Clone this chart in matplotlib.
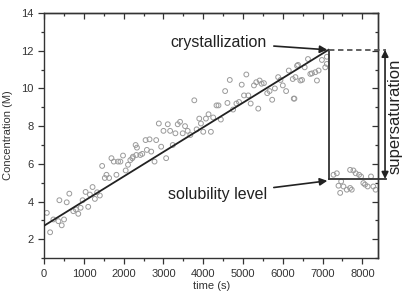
#!/usr/bin/env python3
"""Concentration vs time: linear rise to crystallization, then drop to solubility level."""

import matplotlib

matplotlib.use("Agg")

import matplotlib.pyplot as plt
from matplotlib.ticker import MultipleLocator
import numpy as np

plt.rcParams["font.family"] = ["Liberation Sans", "DejaVu Sans"]

# measured points (time in s, concentration in M)
TIME_S = [
    67, 150, 233, 358, 442, 500, 383, 567, 633, 733, 800, 858, 917, 967,
    1042, 1108, 1150, 1217, 1275, 1333, 1400, 1458, 1525, 1567, 1633, 1692,
    1750, 1817, 1858, 1917, 1983, 2050, 2108, 2167, 2233, 2317, 2217, 2300,
    2333, 2417, 2467, 2550, 2583, 2650, 2692, 2775, 2817, 2883, 2942, 3000,
    3067, 3108, 3167, 3233, 3300, 3358, 3417, 3483, 3542, 3608, 3675, 3775,
    3833, 3900, 3942, 4000, 4067, 4133, 4192, 4250, 4333, 4383, 4442, 4550,
    4608, 4667, 4750, 4833, 4900, 4967, 5025, 5083, 5133, 5192, 5275, 5333,
    5383, 5417, 5467, 5525, 5608, 5667, 5733, 5800, 5883, 5942, 6000, 6083,
    6150, 6275, 6358, 6250, 6317, 6383, 6442, 6483, 6550, 6633, 6692, 6733,
    6817, 6858, 6900, 6983, 7067, 7108, 7108, 6292,
    7275, 7358, 7400, 7467, 7442, 7525, 7608, 7692, 7733, 7692, 7775, 7833,
    7917, 7967, 8025, 8067, 8133, 8217, 8275, 8333,
]
CONC_M = [
    3.40, 2.37, 3.05, 2.96, 2.74, 3.05, 4.07, 3.96, 4.42, 3.49, 3.58, 3.35,
    3.67, 4.07, 4.51, 3.72, 4.37, 4.77, 4.14, 4.49, 4.32, 5.89, 5.25, 5.42,
    5.25, 6.30, 6.12, 5.42, 6.12, 6.12, 6.44, 5.65, 5.95, 6.20, 6.38, 6.47,
    6.30, 7.00, 6.86, 6.47, 6.53, 7.26, 6.74, 7.30, 6.65, 6.12, 7.26, 8.14,
    6.91, 7.75, 6.30, 8.10, 7.75, 7.00, 7.62, 8.10, 8.23, 7.62, 8.00, 7.75,
    7.53, 9.37, 7.83, 8.40, 8.14, 7.70, 8.40, 8.63, 7.70, 8.46, 9.10, 9.10,
    8.35, 9.86, 9.23, 10.45, 8.88, 9.20, 9.28, 10.20, 9.63, 10.74, 9.63, 9.20,
    10.16, 10.33, 8.93, 10.42, 10.25, 10.28, 9.75, 9.86, 9.40, 10.00, 10.60,
    10.45, 10.16, 9.86, 10.95, 9.46, 11.20, 10.50, 10.60, 11.25, 10.42, 10.45,
    11.12, 11.56, 10.77, 10.80, 10.86, 10.42, 10.95, 11.51, 11.12, 11.30,
    11.68, 9.46,
    5.42, 5.50, 4.84, 5.07, 4.46, 4.80, 4.63, 4.72, 4.63, 5.68, 5.65, 5.50,
    5.42, 5.33, 4.98, 4.90, 4.80, 5.33, 4.80, 4.63,
]

# linear fit and levels
FIT_T = [0, 7150]
FIT_C = [2.72, 12.05]
T_CRYST = 7150
C_CRYST = 12.05
C_SOLUB = 5.2
T_END = 8600


def main() -> None:
    fig = plt.figure(figsize=(4.05, 2.96), dpi=100)
    ax = fig.add_axes([0.109, 0.128, 0.825, 0.828])

    ax.scatter(TIME_S, CONC_M, s=12, facecolors="none", edgecolors="#9a9a9a",
               linewidths=0.7, zorder=2)
    ax.plot(FIT_T, FIT_C, color="#222222", lw=1.3, zorder=3)
    ax.plot([T_CRYST, T_CRYST], [C_CRYST, C_SOLUB], color="#333333", lw=1.3, zorder=3)
    ax.plot([T_CRYST, T_END], [C_SOLUB, C_SOLUB], color="#333333", lw=1.3,
            clip_on=False, zorder=3)
    ax.plot([T_CRYST, T_END], [C_CRYST, C_CRYST], color="#555555", lw=1.3,
            ls=(0, (3, 2)), clip_on=False, zorder=3)

    ax.annotate("", xy=(8570, C_SOLUB), xytext=(8570, C_CRYST),
                arrowprops=dict(arrowstyle="<|-|>", color="#222222", lw=1.2,
                                mutation_scale=10, shrinkA=0, shrinkB=0),
                annotation_clip=False)
    ax.text(8830, 8.5, "supersaturation", rotation=90,
            ha="center", va="center", fontsize=12, color="#222222", clip_on=False)

    ax.annotate("crystallization", xy=(7120, C_CRYST), xytext=(5600, 12.45),
                ha="right", va="center", fontsize=11.5, color="#222222",
                arrowprops=dict(arrowstyle="-|>", color="#222222", lw=1.2,
                                mutation_scale=11, shrinkA=3, shrinkB=0))
    ax.annotate("solubility level", xy=(7120, C_SOLUB - 0.1), xytext=(5600, 4.37),
                ha="right", va="center", fontsize=11.5, color="#222222",
                arrowprops=dict(arrowstyle="-|>", color="#222222", lw=1.2,
                                mutation_scale=11, shrinkA=3, shrinkB=0))

    ax.set_xlim(0, 8400)
    ax.set_ylim(1, 14)
    ax.xaxis.set_major_locator(MultipleLocator(1000))
    ax.xaxis.set_minor_locator(MultipleLocator(500))
    ax.yaxis.set_major_locator(MultipleLocator(2))
    ax.yaxis.set_minor_locator(MultipleLocator(1))
    ax.tick_params(which="both", direction="out", labelsize=8, colors="#333333",
                   width=0.9)
    ax.tick_params(which="major", length=4)
    ax.tick_params(which="minor", length=2)
    for spine in ax.spines.values():
        spine.set_linewidth(1.0)
        spine.set_color("#333333")

    top = ax.secondary_xaxis("top")
    right = ax.secondary_yaxis("right")
    top.xaxis.set_major_locator(MultipleLocator(1000))
    top.xaxis.set_minor_locator(MultipleLocator(500))
    right.yaxis.set_major_locator(MultipleLocator(2))
    right.yaxis.set_minor_locator(MultipleLocator(1))
    for sec in (top, right):
        sec.tick_params(which="both", direction="in", labeltop=False,
                        labelright=False, colors="#333333", width=0.9)
        sec.tick_params(which="major", length=4)
        sec.tick_params(which="minor", length=2)
        for spine in sec.spines.values():
            spine.set_linewidth(1.0)
            spine.set_color("#333333")

    ax.set_xlabel("time (s)", fontsize=8, color="#333333", labelpad=2)
    ax.set_ylabel("Concentration (M)", fontsize=8, color="#333333", labelpad=6)

    fig.savefig("out.png", dpi=100)
    plt.close(fig)


if __name__ == "__main__":
    main()
